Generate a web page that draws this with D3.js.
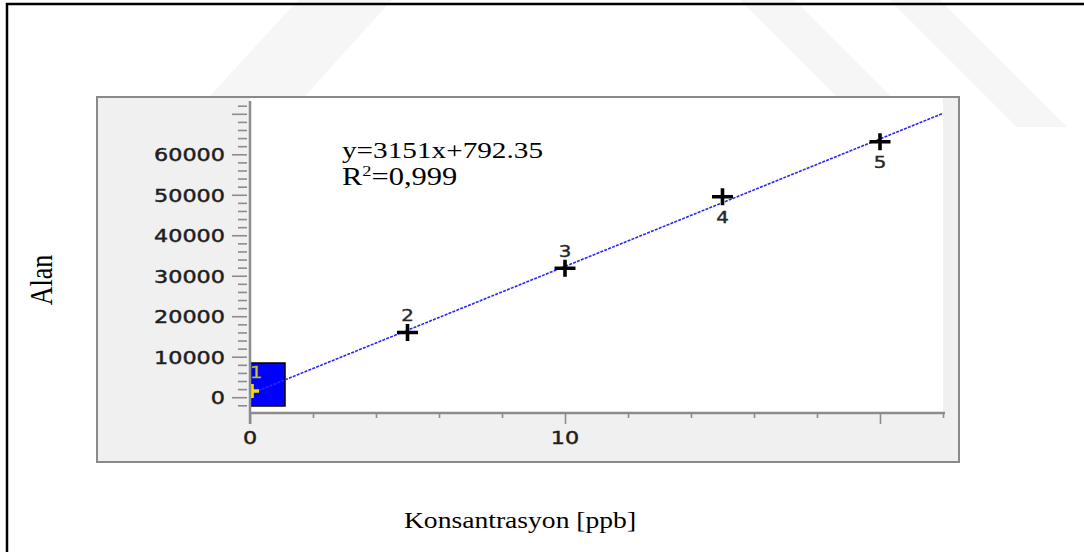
<!DOCTYPE html>
<html><head><meta charset="utf-8">
<script src="https://cdn.jsdelivr.net/npm/d3@7"></script>
<style>body{margin:0;background:#fff;} svg{display:block}</style>
</head><body><svg id="c" width="1084" height="552"></svg>
<script>
// ---- data ----
const xValues = [0, 5, 10, 15, 20];
const yValues = [792, 16000, 31850, 49500, 63100];
const pointLabels = ["1", "2", "3", "4", "5"];
const slope = 3151, intercept = 792.35;
const xDomain = [0, 22];
const yDomain = [-3900, 74150];
const xMajorTicks = [0, 10, 20];
const xMinorTicks = [2, 4, 6, 8, 12, 14, 16, 18, 22];
const xTickLabelValues = [0, 10];
const xTickLabels = ["0", "10"];
const yMajorTicks = [0, 10000, 20000, 30000, 40000, 50000, 60000, 70000];
const yMinorTicks = [-2000, 2000, 4000, 6000, 8000, 12000, 14000, 16000, 18000, 22000, 24000, 26000, 28000,
  32000, 34000, 36000, 38000, 42000, 44000, 46000, 48000, 52000, 54000, 56000, 58000, 62000, 64000, 66000, 68000, 72000];
const yTickLabelValues = [0, 10000, 20000, 30000, 40000, 50000, 60000];
const yTickLabels = ["0", "10000", "20000", "30000", "40000", "50000", "60000"];
const equationText = "y=3151x+792.35";
const xTitle = "Konsantrasyon [ppb]";
const yTitle = "Alan";

// ---- layout ----
const svg = d3.select("#c");
const plot = {left: 250, right: 943, top: 97, bottom: 413};
const x = d3.scaleLinear().domain(xDomain).range([plot.left, plot.right]);
const y = d3.scaleLinear().domain(yDomain).range([plot.bottom, plot.top]);
const sx = 1.24; // horizontal stretch of the source picture

// faint watermark
const wm = [
  [[298,0],[392,0],[305,96],[210,96]],
  [[740,0],[794,0],[890,96],[836,96]],
  [[890,0],[940,0],[1067,127],[1017,127]]
];
svg.selectAll("polygon.wm").data(wm).join("polygon").attr("class","wm")
  .attr("points", d => d.map(p => p.join(",")).join(" ")).attr("fill", "#f6f6f6");

// outer frame
svg.append("rect").attr("x", 7).attr("y", 4).attr("width", 1120).attr("height", 620)
  .attr("fill", "none").attr("stroke", "#000").attr("stroke-width", 2.5);

// panel
svg.append("rect").attr("x", 97).attr("y", 97).attr("width", 862).attr("height", 365)
  .attr("fill", "#f0f0f0").attr("stroke", "#8a8a8a").attr("stroke-width", 2);
svg.append("rect").attr("x", plot.left).attr("y", 98).attr("width", plot.right - plot.left).attr("height", plot.bottom - 98)
  .attr("fill", "#fff");

svg.append("clipPath").attr("id", "clip").append("rect")
  .attr("x", plot.left).attr("y", 98).attr("width", plot.right - plot.left + 1).attr("height", plot.bottom - 98);

// highlight box around point 1
const g = svg.append("g").attr("clip-path", "url(#clip)");
g.append("rect").attr("x", x(xValues[0])).attr("y", y(yValues[0]) - 31)
  .attr("width", 35).attr("height", 43).attr("fill", "#0000ff").attr("stroke", "#000").attr("stroke-width", 1.5);

// regression line
g.append("line").attr("x1", x(xDomain[0])).attr("y1", y(intercept + slope * xDomain[0]))
  .attr("x2", x(xDomain[1])).attr("y2", y(intercept + slope * xDomain[1]))
  .attr("stroke", "#2626ff").attr("stroke-width", 1.6).attr("stroke-dasharray", "3,1.2");

// markers
const pts = xValues.map((v, i) => ({x: v, y: yValues[i], label: pointLabels[i], i}));
g.selectAll("path.mk").data(pts).join("path").attr("class", "mk")
  .attr("transform", d => d.i === 0
    ? `translate(${x(d.x) + 2},${y(d.y) - 3})`
    : `translate(${x(d.x)},${y(d.y)})`)
  .attr("d", d => d.i === 0 ? "M-7,0H7M0,-7V7" : "M-10.5,0H10.5M0,-8.5V8.5")
  .attr("stroke", d => d.i === 0 ? "#f0e000" : "#000").attr("stroke-width", 3.6).attr("fill", "none");

// point labels
svg.selectAll("text.pl").data(pts).join("text").attr("class", "pl")
  .attr("transform", d => {
    if (d.i === 0) return `translate(${x(d.x) + 6},${y(d.y) - 16}) scale(${sx},1)`;
    const off = d.i < 3 ? -11 : 26;
    return `translate(${x(d.x)},${y(d.y) + off}) scale(${sx},1)`;
  })
  .attr("text-anchor", "middle")
  .attr("font-family", "DejaVu Sans").attr("font-size", 16)
  .attr("fill", d => d.i === 0 ? "#d0d020" : "#262626")
  .attr("stroke", d => d.i === 0 ? "#a0a020" : "#262626").attr("stroke-width", 0.4)
  .text(d => d.label);

// axes: y
const tickColor = "#8c8c8c";
function styleAxis(sel) {
  sel.select(".domain").remove();
  sel.selectAll(".tick line").attr("stroke", tickColor).attr("stroke-width", 1.6);
  sel.selectAll(".tick text").remove();
}
svg.append("g").attr("transform", "translate(247,0)")
  .call(d3.axisLeft(y).tickValues(yMajorTicks).tickSize(15).tickFormat(""))
  .call(styleAxis);
svg.append("g").attr("transform", "translate(247,0)")
  .call(d3.axisLeft(y).tickValues(yMinorTicks).tickSize(9).tickFormat(""))
  .call(styleAxis);
svg.append("line").attr("x1", plot.left).attr("x2", plot.left).attr("y1", 101).attr("y2", 424)
  .attr("stroke", tickColor).attr("stroke-width", 2.5);

// axes: x
svg.append("g").attr("transform", `translate(0,${plot.bottom})`)
  .call(d3.axisBottom(x).tickValues(xMajorTicks).tickSize(11).tickFormat(""))
  .call(styleAxis);
svg.append("g").attr("transform", `translate(0,${plot.bottom})`)
  .call(d3.axisBottom(x).tickValues(xMinorTicks).tickSize(5).tickFormat(""))
  .call(styleAxis);
svg.append("line").attr("x1", plot.left).attr("x2", plot.right + 2).attr("y1", plot.bottom).attr("y2", plot.bottom)
  .attr("stroke", tickColor).attr("stroke-width", 2.5);

// tick labels
svg.selectAll("text.yl").data(yTickLabelValues).join("text").attr("class", "yl")
  .attr("transform", d => `translate(225,${y(d) + 7}) scale(${sx},1)`)
  .attr("text-anchor", "end").attr("font-family", "DejaVu Sans").attr("font-size", 18).attr("fill", "#1e1e1e")
  .attr("stroke", "#1e1e1e").attr("stroke-width", 0.45)
  .text((d, i) => yTickLabels[i]);
svg.selectAll("text.xl").data(xTickLabelValues).join("text").attr("class", "xl")
  .attr("transform", d => `translate(${x(d)},444) scale(${sx},1)`)
  .attr("text-anchor", "middle").attr("font-family", "DejaVu Sans").attr("font-size", 18).attr("fill", "#1e1e1e")
  .attr("stroke", "#1e1e1e").attr("stroke-width", 0.45)
  .text((d, i) => xTickLabels[i]);

// equation
const serif = "'Liberation Serif', 'Times New Roman', serif";
svg.append("text").attr("x", 342).attr("y", 158).attr("font-family", serif).attr("font-size", 24)
  .attr("textLength", 201).attr("lengthAdjust", "spacingAndGlyphs").attr("fill", "#000").text(equationText);
const r2 = svg.append("text").attr("x", 342).attr("y", 185).attr("font-family", serif).attr("font-size", 25)
  .attr("fill", "#000").attr("transform", `translate(${342 - 342 * 1.22},0) scale(1.22,1)`);
r2.append("tspan").text("R");
r2.append("tspan").attr("font-size", 15).attr("dy", -9).text("2");
r2.append("tspan").attr("dy", 9).text("=0,999");

// axis titles
svg.append("text").attr("transform", `translate(520,528) scale(1.2,1)`).attr("text-anchor", "middle")
  .attr("font-family", serif).attr("font-size", 23).attr("fill", "#000").text(xTitle);
svg.append("text").attr("transform", `translate(52,280) scale(1.2,1) rotate(-90)`).attr("text-anchor", "middle")
  .attr("font-family", serif).attr("font-size", 26).attr("fill", "#000").text(yTitle);
</script></body></html>
